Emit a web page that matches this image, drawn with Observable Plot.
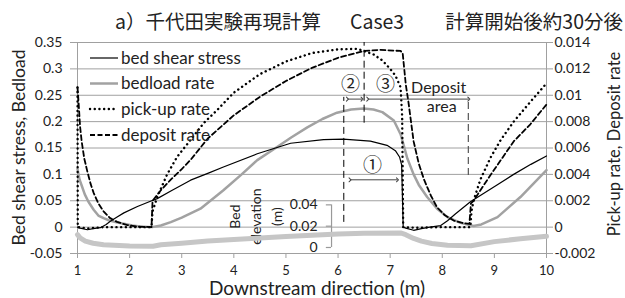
<!DOCTYPE html>
<html><head><meta charset="utf-8">
<script src="https://cdn.jsdelivr.net/npm/d3@7"></script>
<script src="https://cdn.jsdelivr.net/npm/@observablehq/plot@0.6"></script>
<style>body{margin:0;background:#fff}</style>
</head><body><div id="chart"></div>
<script>
// ---- data ----
const xTicks = [1,2,3,4,5,6,7,8,9,10];
const leftTicks = [-0.05,0,0.05,0.1,0.15,0.2,0.25,0.3,0.35];
const leftTickLabels = ["-0.05","0","0.05","0.1","0.15","0.2","0.25","0.3","0.35"];
const rightTickLabels = ["-0.002","0","0.002","0.004","0.006","0.008","0.01","0.012","0.014"];
const elevTicks = [0,0.02,0.04];
const elevTickLabels = ["0","0.02","0.04"];

// bed shear stress (left axis)
const shearStress = [[1.0,0.0],[1.05,-0.002],[1.19,-0.005],[1.3,-0.003],[1.44,-0.001],[1.55,0.005],[1.63,0.011],[1.76,0.019],[1.89,0.027],[2.15,0.039],[2.4,0.049],[2.53,0.054],[2.8,0.069],[3.17,0.089],[3.5,0.102],[3.8,0.114],[4.45,0.139],[5.09,0.159],[5.72,0.166],[6.1,0.167],[6.62,0.163],[6.94,0.155],[7.1,0.145],[7.18,0.133],[7.22,0.118],[7.25,0.0],[7.3,-0.002],[7.45,-0.006],[7.6,-0.003],[7.76,0.0],[7.97,0.003],[8.1,0.012],[8.25,0.025],[8.54,0.048],[8.73,0.06],[9.05,0.08],[9.37,0.1],[9.7,0.119],[10.0,0.135]];
// bedload rate (left axis)
const bedloadRate = [[1.0,0.11],[1.04,0.09],[1.08,0.079],[1.14,0.062],[1.21,0.048],[1.31,0.033],[1.4,0.022],[1.5,0.017],[1.6,0.013],[1.75,0.009],[1.89,0.0064],[2.05,0.003],[2.2,0.001],[2.43,0.0],[2.6,0.003],[2.79,0.0095],[3.0,0.018],[3.36,0.035],[3.8,0.07],[4.15,0.1],[4.45,0.127],[4.83,0.152],[5.1,0.17],[5.41,0.189],[5.7,0.205],[5.98,0.217],[6.25,0.223],[6.49,0.225],[6.68,0.223],[6.85,0.218],[7.07,0.202],[7.2,0.176],[7.26,0.155],[7.33,0.13],[7.45,0.1],[7.55,0.08],[7.71,0.057],[7.9,0.035],[8.1,0.019],[8.35,0.008],[8.6,0.002],[8.75,0.005],[9.06,0.019],[9.5,0.057],[10.0,0.108]];
// pick-up rate (right axis)
const pickupRate = [[1.0,0.0106],[1.005,0.0],[1.2,-0.0001],[1.5,0.0],[2.0,0.0],[2.42,0.0],[2.44,0.0012],[2.53,0.00228],[2.72,0.004],[2.91,0.00532],[3.11,0.00632],[3.42,0.00788],[3.68,0.00888],[4.0,0.0102],[4.5,0.0116],[5.0,0.01256],[5.5,0.0132],[6.0,0.01348],[6.37,0.01352],[6.68,0.0131],[6.85,0.01264],[7.0,0.012],[7.1,0.0115],[7.2,0.0106],[7.23,0.0084],[7.25,0.0],[7.5,-0.00005],[8.0,0.0],[8.54,0.0],[8.56,0.0012],[8.6,0.002],[8.73,0.0036],[8.93,0.0053],[9.12,0.0066],[9.37,0.008],[9.69,0.0095],[10.0,0.0109]];
// deposit rate (right axis)
const depositRate = [[1.0,0.0106],[1.02,0.0095],[1.05,0.0076],[1.08,0.0065],[1.13,0.0052],[1.19,0.0042],[1.25,0.0033],[1.31,0.0026],[1.4,0.0018],[1.5,0.0012],[1.62,0.0007],[1.76,0.0004],[1.95,0.00016],[2.15,0.00004],[2.42,0.0],[2.44,0.002],[2.6,0.0028],[2.79,0.0036],[3.0,0.0044],[3.17,0.0051],[3.5,0.00672],[4.0,0.00848],[4.5,0.00988],[5.0,0.01108],[5.5,0.01208],[6.0,0.01284],[6.5,0.01336],[6.8,0.01344],[7.2,0.01336],[7.24,0.0132],[7.3,0.0108],[7.35,0.0095],[7.45,0.0065],[7.55,0.0048],[7.65,0.0036],[7.78,0.0024],[7.9,0.0015],[8.05,0.0009],[8.22,0.0005],[8.4,0.0003],[8.52,0.00024],[8.55,0.0018],[8.6,0.002],[8.9,0.0038],[9.37,0.0065],[9.69,0.0078],[10.0,0.0093]];
// bed elevation (m, inset axis)
const bedElevation = [[1.0,0.012],[1.05,0.009],[1.15,0.006],[1.3,0.004],[1.5,0.0025],[2.0,0.0015],[2.45,0.0012],[2.6,0.0025],[3.0,0.004],[3.5,0.006],[4.0,0.0075],[4.5,0.009],[5.0,0.0102],[5.5,0.0115],[6.0,0.0127],[6.5,0.0133],[7.2,0.0136],[7.3,0.012],[7.45,0.0085],[7.6,0.006],[7.8,0.0038],[8.1,0.0022],[8.55,0.0017],[9.0,0.0055],[9.5,0.0082],[10.0,0.0105]];

// ---- scale helpers ----
const R = 25;                       // right axis = left axis / 25
const elevToLeft = e => -0.0386 + e * 2.02;  // inset bed-elevation axis
const elevAxisX = 5.875;

const X = d => d[0], Y = d => d[1];
const lab = (arr, labels) => d => labels[arr.indexOf(d)];

const grid = "#a0a0a0";
const plot = Plot.plot({
  width: 625, height: 298,
  marginTop: 42, marginBottom: 45, marginLeft: 77, marginRight: 79,
  x: {domain: [1, 10]},
  y: {domain: [-0.05, 0.35]},
  style: {fontFamily: "Lato, sans-serif", fontSize: "14px", color: "#222", background: "white", overflow: "visible"},
  marks: [
    Plot.gridY(leftTicks, {stroke: grid, strokeOpacity: 1}),
    Plot.ruleX([1, 10], {stroke: grid}),
    Plot.axisY(leftTicks, {anchor: "left", tickSize: 7, tickPadding: 8, stroke: grid, fill: "#222", fontSize: 14, tickFormat: lab(leftTicks, leftTickLabels), label: null}),
    Plot.axisY(leftTicks, {anchor: "right", tickSize: 6, tickPadding: 2, stroke: grid, fill: "#222", fontSize: 14, tickFormat: lab(leftTicks, rightTickLabels), label: null}),
    Plot.axisX(xTicks, {tickSize: 5, tickPadding: 7, stroke: grid, fill: "#222", fontSize: 13, tickFormat: d => String(d), label: null}),
    // bed elevation inset axis
    Plot.ruleX([elevAxisX], {y1: elevToLeft(0), y2: elevToLeft(0.04), stroke: "#999", strokeWidth: 1.2}),
    Plot.ruleY(elevTicks, {y: d => elevToLeft(d), x1: elevAxisX - 0.1, x2: elevAxisX, stroke: "#999", strokeWidth: 1.2}),
    Plot.text(elevTicks, {x: elevAxisX, y: d => elevToLeft(d), text: (d, i) => elevTickLabels[i], textAnchor: "end", dx: -14, fontSize: 14, fill: "#222"}),
    Plot.text(["Bed\nelevation\n(m)"], {x: 4.39, y: 0.02, text: d => d, rotate: -90, lineHeight: 1.5, fontSize: 14, fill: "#222"}),
    // series
    Plot.line(bedElevation, {x: X, y: d => elevToLeft(d[1]), stroke: "#c6c6c6", strokeWidth: 5}),
    Plot.line(bedloadRate, {x: X, y: Y, stroke: "#a2a2a2", strokeWidth: 2.5}),
    Plot.line(shearStress, {x: X, y: Y, stroke: "#000", strokeWidth: 1.2}),
    Plot.line(pickupRate, {x: X, y: d => d[1] * R, stroke: "#000", strokeWidth: 2.4, strokeDasharray: "0.1 4.6", strokeLinecap: "round"}),
    Plot.line(depositRate, {x: X, y: d => d[1] * R, stroke: "#000", strokeWidth: 1.8, strokeDasharray: "5 3"}),
    // annotations
    Plot.ruleX([6.11], {y1: 0.009, y2: 0.246, stroke: "#000", strokeWidth: 1, strokeDasharray: "7 4"}),
    Plot.ruleX([6.5], {y1: 0.197, y2: 0.35, stroke: "#000", strokeWidth: 1, strokeDasharray: "7 4"}),
    Plot.ruleX([8.5], {y1: 0.098, y2: 0.245, stroke: "#555", strokeWidth: 1.2, strokeDasharray: "7 4"}),
    Plot.link([[6.18, 6.46], [6.57, 8.51]], {x1: d => d[0], x2: d => d[1], y1: 0.2427, y2: 0.2427, stroke: "#444", strokeWidth: 1, markerStart: "arrow", markerEnd: "arrow"}),
    Plot.link([[6.23, 7.14]], {x1: d => d[0], x2: d => d[1], y1: 0.0897, y2: 0.0897, stroke: "#444", strokeWidth: 1, markerStart: "arrow", markerEnd: "arrow"}),
    Plot.text(["②", "③"], {x: [6.24, 6.91], y: [0.269, 0.269], text: d => d, fontFamily: "Noto Sans CJK JP", fontSize: 19, fill: "#222"}),
    Plot.text(["①"], {x: [6.66], y: [0.117], text: d => d, fontFamily: "Noto Sans CJK JP", fontSize: 19, fill: "#222"}),
    Plot.text(["Deposit", "area"], {x: [7.93, 7.99], y: [0.2637, 0.228], text: d => d, fontSize: 16, fill: "#222"})
  ]
});

const svg = d3.select(plot);
// legend
const legend = [
  {name: "bed shear stress", stroke: "#000", w: 1.2, dash: null, cap: "butt"},
  {name: "bedload rate", stroke: "#a2a2a2", w: 2.5, dash: null, cap: "butt"},
  {name: "pick-up rate", stroke: "#000", w: 2.4, dash: "0.1 4.6", cap: "round"},
  {name: "deposit rate", stroke: "#000", w: 1.8, dash: "5 2.5", cap: "butt"}
];
const rows = [58, 83.5, 109, 135];
const lg = svg.append("g");
legend.forEach((e, i) => {
  const ln = lg.append("line").attr("x1", 90).attr("x2", 118).attr("y1", rows[i]).attr("y2", rows[i])
    .attr("stroke", e.stroke).attr("stroke-width", e.w).attr("stroke-linecap", e.cap);
  if (e.dash) ln.attr("stroke-dasharray", e.dash);
  lg.append("text").attr("x", 121).attr("y", rows[i]).attr("dy", "0.35em").attr("text-anchor", "start")
    .attr("font-family", "Lato").attr("font-size", 17).attr("fill", "#222").text(e.name);
});
// axis titles
const t = (x, y, rot, txt, size) => svg.append("text")
  .attr("transform", `translate(${x},${y}) rotate(${rot})`).attr("text-anchor", "middle")
  .attr("dy", "0.35em").attr("font-family", "Lato").attr("font-size", size).attr("fill", "#222").text(txt);
t(19, 147.5, -90, "Bed shear stress, Bedload", 17.5);
t(614, 144, -90, "Pick-up rate, Deposit rate", 16.5);
t(317, 288, 0, "Downstream direction (m)", 19);
// chart title
const tt = (x, anchor, txt) => svg.append("text").attr("x", x).attr("y", 28.5).attr("text-anchor", anchor)
  .attr("font-family", "Noto Sans CJK JP").attr("font-size", 19.5).attr("fill", "#222").text(txt);
tt(115, "start", "a）千代田実験再現計算");
tt(350, "start", "Case3");
tt(623, "end", "計算開始後約30分後");

document.getElementById("chart").appendChild(plot);
</script>
</body></html>
